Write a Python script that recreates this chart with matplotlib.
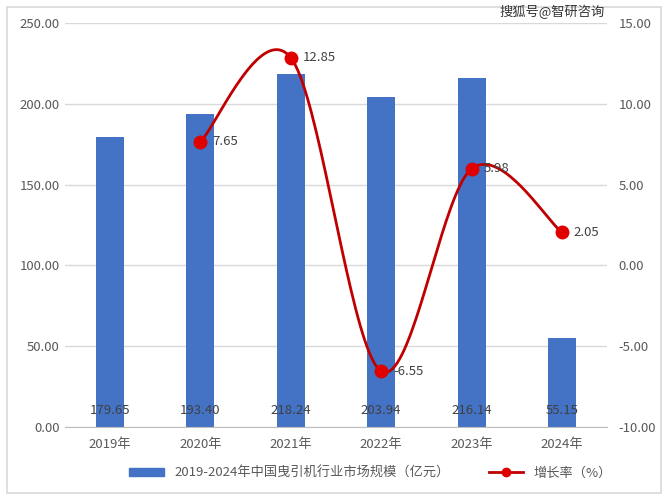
import numpy as np
import matplotlib.pyplot as plt
from matplotlib.lines import Line2D
from matplotlib.patches import Patch, Rectangle

plt.rcParams['font.family'] = ['Noto Sans CJK SC', 'DejaVu Sans']

years = ['2019年', '2020年', '2021年', '2022年', '2023年', '2024年']
market = [179.65, 193.40, 218.24, 203.94, 216.14, 55.15]
growth = [None, 7.65, 12.85, -6.55, 5.98, 2.05]

bar_color = '#4472C4'
line_color = '#C00000'
text_color = '#595959'


def catmull_rom(xs, ys, n=40):
    # smooth curve through the points, similar to Excel's smoothed line
    px = [xs[0]] + list(xs) + [xs[-1]]
    py = [ys[0]] + list(ys) + [ys[-1]]
    out_x, out_y = [], []
    t = np.linspace(0, 1, n)
    for i in range(1, len(px) - 2):
        p0, p1, p2, p3 = [np.array([px[j], py[j]]) for j in range(i - 1, i + 3)]
        c1 = p1 + (p2 - p0) / 6
        c2 = p2 - (p3 - p1) / 6
        pts = ((1 - t) ** 3)[:, None] * p1 + (3 * (1 - t) ** 2 * t)[:, None] * c1 \
            + (3 * (1 - t) * t ** 2)[:, None] * c2 + (t ** 3)[:, None] * p2
        out_x.extend(pts[:, 0])
        out_y.extend(pts[:, 1])
    return out_x, out_y


fig = plt.figure(figsize=(6.68, 5), dpi=100)
fig.patches.append(Rectangle((0.011, 0.014), 0.978, 0.972, transform=fig.transFigure,
                             fill=False, edgecolor='#D9D9D9', linewidth=1.2))
ax = fig.add_axes([0.097, 0.146, 0.812, 0.808])
x = np.arange(len(years))

ax.bar(x, market, width=0.31, color=bar_color, zorder=2)
for xi, v in zip(x, market):
    ax.text(xi, 6, f'{v:.2f}', ha='center', va='bottom', fontsize=9.5,
            color='#404040', zorder=3)

ax.set_ylim(0, 250)
ax.set_yticks(np.arange(0, 251, 50))
ax.set_yticklabels([f'{v:.2f}' for v in np.arange(0, 251, 50)])
ax.set_xlim(-0.5, len(years) - 0.5)
ax.set_xticks(x)
ax.set_xticklabels(years)
ax.grid(axis='y', color='#D9D9D9', linewidth=1)
ax.set_axisbelow(True)
for s in ['top', 'left', 'right']:
    ax.spines[s].set_visible(False)
ax.spines['bottom'].set_color('#BFBFBF')
ax.tick_params(axis='both', length=0, colors=text_color, labelsize=9.5)
ax.tick_params(axis='x', pad=8)

ax2 = ax.twinx()
ax2.set_ylim(-10, 15)
ax2.set_yticks(np.arange(-10, 16, 5))
ax2.set_yticklabels([f'{v:.2f}' for v in np.arange(-10, 16, 5)])
for s in ax2.spines.values():
    s.set_visible(False)
ax2.tick_params(axis='y', length=0, colors=text_color, labelsize=9.5, pad=8)

gx = [xi for xi, g in zip(x, growth) if g is not None]
gy = [g for g in growth if g is not None]
sx, sy = catmull_rom(gx, gy)
ax2.plot(sx, sy, color=line_color, linewidth=2, zorder=4)
ax2.plot(gx, gy, 'o', color='#E00000', markersize=9, zorder=5)
for xi, g in zip(gx, gy):
    ax2.text(xi + 0.13, g, f'{g:.2f}', ha='left', va='center', fontsize=9.5,
             color='#404040', zorder=6)

handles = [Patch(color=bar_color),
           Line2D([0], [0], color=line_color, linewidth=2, marker='o',
                  markersize=6, markerfacecolor='#E00000', markeredgecolor='#E00000')]
labels = ['2019-2024年中国曳引机行业市场规模（亿元）', '增长率（%）']
fig.legend(handles, labels, loc='center', bbox_to_anchor=(0.555, 0.054), ncol=2,
           frameon=False, fontsize=9.5, labelcolor=text_color, handlelength=2.6,
           handleheight=0.6, columnspacing=3)

fig.text(0.905, 0.976, '搜狐号@智研咨询', ha='right', va='center', fontsize=9.5,
         color='#333333')

fig.savefig('out.png', dpi=100)
